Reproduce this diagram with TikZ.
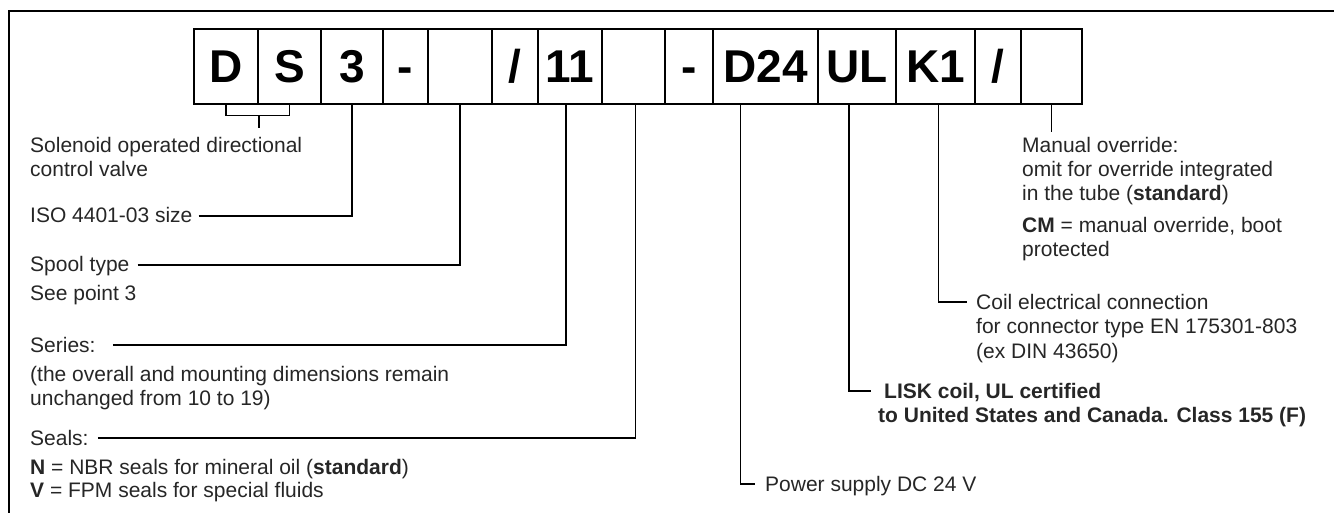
\documentclass[tikz,border=0pt]{standalone}
\usepackage{fontspec}
\setmainfont{Liberation Sans}
\usepackage{tikz}
\usetikzlibrary{calc}

\begin{document}
\begin{tikzpicture}[x=1pt, y=-1pt,
    cell/.style={draw, line width=1.6pt, minimum height=75pt, inner sep=0pt, text height=33pt, text depth=0pt, font=\fontsize{46}{46}\selectfont\bfseries},
    lbl/.style={inner sep=0pt, align=left, text=black!85, font=\fontsize{21}{24}\selectfont},
    head/.style={lbl, text height=15pt, text depth=1pt},
    lead/.style={line width=1.4pt}]
    \useasboundingbox (0,0) rectangle (1334,513);
    \draw[line width=2pt] (9,513) |- (1334,11);

    % code boxes
    \node[cell, minimum width=64pt] (c1) at (226,66.5) {D};
    \node[cell, minimum width=63pt] (c2) at (289.5,66.5) {S};
    \node[cell, minimum width=62pt] (c3) at (352,66.5) {3};
    \node[cell, minimum width=45pt] (c4) at (405.5,66.5) {-};
    \node[cell, minimum width=64pt] (c5) at (460,66.5) {};
    \node[cell, minimum width=46pt] (c6) at (515,66.5) {/};
    \node[cell, minimum width=64pt] (c7) at (570,66.5) {11};
    \node[cell, minimum width=63pt] (c8) at (633.5,66.5) {};
    \node[cell, minimum width=48pt] (c9) at (689,66.5) {-};
    \node[cell, minimum width=105pt] (c10) at (765.5,66.5) {D24};
    \node[cell, minimum width=78pt] (c11) at (857,66.5) {UL};
    \node[cell, minimum width=79pt] (c12) at (935.5,66.5) {K1};
    \node[cell, minimum width=46pt] (c13) at (998,66.5) {/};
    \node[cell, minimum width=61pt] (c14) at (1051.5,66.5) {};

    % left texts
    \node[lbl, anchor=north west] (valve) at (30,137) {Solenoid operated directional\\control valve};
    \node[head, anchor=west] (size) at (30,216) {ISO 4401-03 size};
    \node[head, anchor=west] (spool) at (30,265) {Spool type};
    \node[lbl, anchor=north west] (spoolnote) at (30,285) {See point 3};
    \node[head, anchor=west] (series) at (30,345) {Series:};
    \node[lbl, anchor=north west] (seriesnote) at (30,366) {(the overall and mounting dimensions remain\\unchanged from 10 to 19)};
    \node[head, anchor=west] (seals) at (30,438) {Seals:};
    \node[lbl, anchor=north west, font=\fontsize{21}{23}\selectfont] (sealsnote) at (30,459) {\textbf{N} = NBR seals for mineral oil (\textbf{standard})\\\textbf{V} = FPM seals for special fluids};

    % right texts
    \node[lbl, anchor=north west] (override) at (1022,137) {Manual override:\\omit for override integrated\\in the tube (\textbf{standard})};
    \node[lbl, anchor=north west] (boot) at (1022,217) {\textbf{CM} = manual override, boot\\protected};
    \node[head, anchor=west] (coil) at (976,302) {Coil electrical connection};
    \node[lbl, anchor=north west, font=\fontsize{21}{25}\selectfont] (coilnote) at (976,318) {for connector type EN 175301-803\\(ex DIN 43650)};
    \node[head, anchor=west, font=\fontsize{21}{24}\selectfont\bfseries] (lisk) at (884,391) {LISK coil, UL certified};
    \node[lbl, anchor=north west, font=\fontsize{21}{24}\selectfont\bfseries] (lisknote) at (878,407) {to United States and Canada. Class 155 (F)};
    \node[head, anchor=west] (power) at (765,484) {Power supply DC 24 V};

    % leaders
    \draw[lead] (c1.south) -- ++(0,11) coordinate (dsbar) -| (c2.south);
    \draw[lead] (c1.south east |- dsbar) -- ($(c1.south east |- valve.north)+(0,-9)$);
    \draw[lead] ([xshift=6pt]size.east) -| (c3.south);
    \draw[lead] ([xshift=8pt]spool.east) -| (c5.south);
    \draw[lead] ([xshift=17pt]series.east) -| ([xshift=-4pt]c7.south);
    \draw[lead] ([xshift=9pt]seals.east) -| ([xshift=2pt]c8.south);
    \draw[lead] ([xshift=-25pt]c10.south) |- ([xshift=-10pt]power.west);
    \draw[lead] ([xshift=-8pt]c11.south) |- ([xshift=-13pt]lisk.west);
    \draw[lead] ([xshift=3pt]c12.south) |- ([xshift=-9pt]coil.west);
    \draw[lead] (c14.south) -- ($(c14.south |- override.north)+(0,-5)$);
\end{tikzpicture}
\end{document}
